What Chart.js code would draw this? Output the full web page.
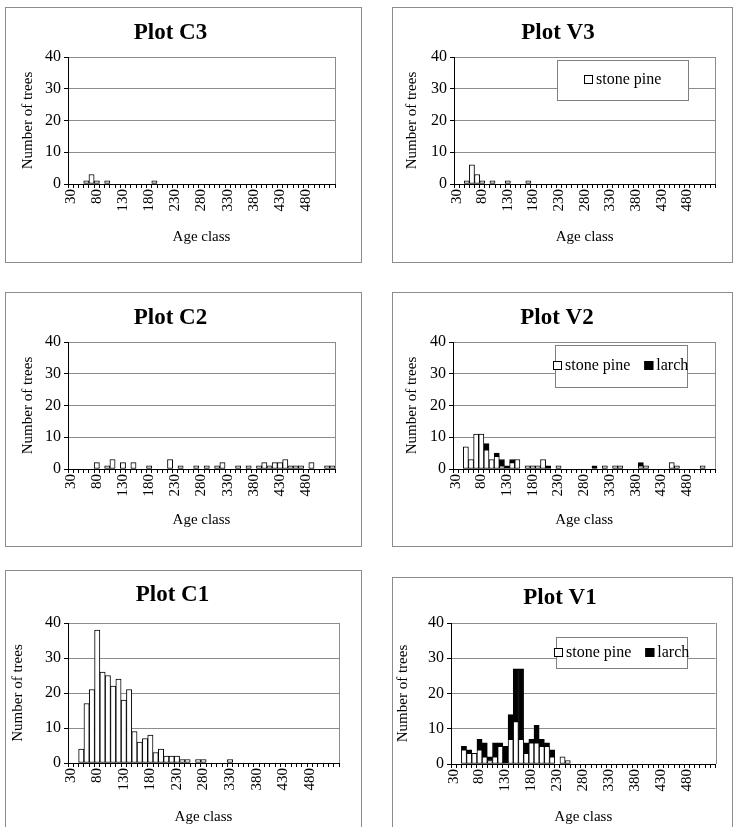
<!DOCTYPE html>
<html lang="en">
<head>
<meta charset="UTF-8" />
<title>Age class distribution per plot</title>
<script src="https://cdn.jsdelivr.net/npm/chart.js"></script>
<style>
  html, body { margin: 0; padding: 0; background: #fff; overflow: hidden; }
  #page { position: relative; width: 735px; height: 827px; overflow: hidden; }
  .panel { position: absolute; border: 1px solid #8c8c8c; box-sizing: border-box; background: #fff; }
  .panel canvas { display: block; }
</style>
</head>
<body>
<div id="page"></div>
<script>
// age classes on the x axis (one bar slot each)
const ageClasses = [
  30, 40, 50, 60, 70, 80, 90, 100, 110, 120,
  130, 140, 150, 160, 170, 180, 190, 200, 210, 220,
  230, 240, 250, 260, 270, 280, 290, 300, 310, 320,
  330, 340, 350, 360, 370, 380, 390, 400, 410, 420,
  430, 440, 450, 460, 470, 480, 490, 500, 510, 520,
  530
];
const xTickLabels = [30, 80, 130, 180, 230, 280, 330, 380, 430, 480];
const yTicks = [0, 10, 20, 30, 40];

// number of trees per age class
const c3Trees = [
  0, 0, 0, 1, 3, 1, 0, 1, 0, 0,
  0, 0, 0, 0, 0, 0, 1, 0, 0, 0,
  0, 0, 0, 0, 0, 0, 0, 0, 0, 0,
  0, 0, 0, 0, 0, 0, 0, 0, 0, 0,
  0, 0, 0, 0, 0, 0, 0, 0, 0, 0,
  0
];
const v3StonePine = [
  0, 0, 1, 6, 3, 1, 0, 1, 0, 0,
  1, 0, 0, 0, 1, 0, 0, 0, 0, 0,
  0, 0, 0, 0, 0, 0, 0, 0, 0, 0,
  0, 0, 0, 0, 0, 0, 0, 0, 0, 0,
  0, 0, 0, 0, 0, 0, 0, 0, 0, 0,
  0
];
const c2Trees = [
  0, 0, 0, 0, 0, 2, 0, 1, 3, 0,
  2, 0, 2, 0, 0, 1, 0, 0, 0, 3,
  0, 1, 0, 0, 1, 0, 1, 0, 1, 2,
  0, 0, 1, 0, 1, 0, 1, 2, 1, 2,
  2, 3, 1, 1, 1, 0, 2, 0, 0, 1,
  1
];
const v2StonePine = [
  0, 0, 7, 3, 11, 11, 6, 3, 4, 1,
  0, 2, 3, 0, 1, 1, 1, 3, 0, 0,
  1, 0, 0, 0, 0, 0, 0, 0, 0, 1,
  0, 1, 1, 0, 0, 0, 1, 1, 0, 0,
  0, 0, 2, 1, 0, 0, 0, 0, 1, 0,
  0
];
const v2Larch = [
  0, 0, 0, 0, 0, 0, 2, 0, 1, 2,
  1, 1, 0, 0, 0, 0, 0, 0, 1, 0,
  0, 0, 0, 0, 0, 0, 0, 1, 0, 0,
  0, 0, 0, 0, 0, 0, 1, 0, 0, 0,
  0, 0, 0, 0, 0, 0, 0, 0, 0, 0,
  0
];
const c1Trees = [
  0, 0, 4, 17, 21, 38, 26, 25, 22, 24,
  18, 21, 9, 6, 7, 8, 3, 4, 2, 2,
  2, 1, 1, 0, 1, 1, 0, 0, 0, 0,
  1, 0, 0, 0, 0, 0, 0, 0, 0, 0,
  0, 0, 0, 0, 0, 0, 0, 0, 0, 0,
  0
];
const v1StonePine = [
  0, 0, 4, 3, 3, 4, 2, 1, 2, 5,
  0, 7, 12, 7, 3, 6, 6, 5, 5, 2,
  0, 2, 1, 0, 0, 0, 0, 0, 0, 0,
  0, 0, 0, 0, 0, 0, 0, 0, 0, 0,
  0, 0, 0, 0, 0, 0, 0, 0, 0, 0,
  0
];
const v1Larch = [
  0, 0, 1, 1, 0, 3, 4, 1, 4, 1,
  5, 7, 15, 20, 3, 1, 5, 2, 1, 2,
  0, 0, 0, 0, 0, 0, 0, 0, 0, 0,
  0, 0, 0, 0, 0, 0, 0, 0, 0, 0,
  0, 0, 0, 0, 0, 0, 0, 0, 0, 0,
  0
];

const SERIF = "'Liberation Serif', 'Times New Roman', serif";
Chart.defaults.font.family = SERIF;
Chart.defaults.color = "#000";
Chart.defaults.animation = false;

// page positions of each panel (box), its plot area and its texts
const panels = [
  { title: "Plot C3", box: [5, 7, 357, 256], plot: [68, 57, 335, 184], titleY: 33, yTitleX: 28, xTitleY: 237,
    series: [{ label: "trees", data: c3Trees, color: "#fff" }] },
  { title: "Plot V3", box: [392, 7, 341, 256], plot: [454, 57, 723, 184], titleY: 33, yTitleX: 412, xTitleY: 237,
    legend: [557, 60, 131, 40],
    series: [{ label: "stone pine", data: v3StonePine, color: "#fff" }] },
  { title: "Plot C2", box: [5, 292, 357, 255], plot: [68, 342, 335, 469], titleY: 318, yTitleX: 28, xTitleY: 520,
    series: [{ label: "trees", data: c2Trees, color: "#fff" }] },
  { title: "Plot V2", box: [392, 292, 341, 255], plot: [453, 342, 721, 469], titleY: 318, yTitleX: 412, xTitleY: 520,
    legend: [555, 345, 132, 42],
    series: [{ label: "stone pine", data: v2StonePine, color: "#fff" },
             { label: "larch", data: v2Larch, color: "#000" }] },
  { title: "Plot C1", box: [5, 570, 357, 270], plot: [68, 623, 339, 763], titleY: 595, yTitleX: 18, xTitleY: 817,
    series: [{ label: "trees", data: c1Trees, color: "#fff" }] },
  { title: "Plot V1", box: [392, 577, 341, 265], plot: [451, 623, 727, 764], titleY: 598, yTitleX: 403, xTitleY: 817,
    legend: [556, 637, 131, 31],
    series: [{ label: "stone pine", data: v1StonePine, color: "#fff" },
             { label: "larch", data: v1Larch, color: "#000" }] }
];

// right edge of the plot frame (top edge is the 40 gridline)
const plotFrame = {
  id: "plotFrame",
  beforeDatasetsDraw(chart) {
    const { ctx, chartArea: a } = chart;
    ctx.save();
    ctx.strokeStyle = "#8c8c8c";
    ctx.lineWidth = 1;
    ctx.beginPath();
    ctx.moveTo(Math.round(a.right) + 0.5, a.top);
    ctx.lineTo(Math.round(a.right) + 0.5, a.bottom);
    ctx.stroke();
    ctx.restore();
  }
};

// boxed legend inside the plot, like the spreadsheet one
const boxLegend = {
  id: "boxLegend",
  afterDraw(chart, args, opts) {
    if (!opts.box) return;
    const ctx = chart.ctx;
    const [x, y, w, h] = opts.box;
    ctx.save();
    ctx.fillStyle = "#fff";
    ctx.fillRect(x, y, w, h);
    ctx.strokeStyle = "#7f7f7f";
    ctx.lineWidth = 1;
    ctx.strokeRect(Math.round(x) + 0.5, Math.round(y) + 0.5, w, h);
    ctx.font = "16px " + SERIF;
    ctx.textBaseline = "middle";
    const sq = 9, gap = 3, between = 14;
    const items = chart.data.datasets.map(ds => ({
      label: ds.label, color: ds.backgroundColor, width: ctx.measureText(ds.label).width
    }));
    const total = items.reduce((s, it) => s + sq + gap + it.width, 0) + between * (items.length - 1);
    let cx = Math.round(x + (w - total) / 2);
    const cy = Math.round(y + h / 2);
    items.forEach(it => {
      ctx.fillStyle = it.color;
      ctx.fillRect(cx, cy - 5, sq, sq);
      ctx.strokeStyle = "#000";
      ctx.strokeRect(cx + 0.5, cy - 4.5, sq - 1, sq - 1);
      ctx.fillStyle = "#000";
      ctx.fillText(it.label, cx + sq + gap, cy);
      cx += sq + gap + it.width + between;
    });
    ctx.restore();
  }
};

const page = document.getElementById("page");

panels.forEach(p => {
  const [bx, by, bw, bh] = p.box;
  const wrap = document.createElement("div");
  wrap.className = "panel";
  wrap.style.left = bx + "px";
  wrap.style.top = by + "px";
  wrap.style.width = bw + "px";
  wrap.style.height = bh + "px";
  const canvas = document.createElement("canvas");
  const cw = bw - 2, ch = bh - 2;
  canvas.width = cw;
  canvas.height = ch;
  wrap.appendChild(canvas);
  page.appendChild(wrap);

  // canvas-local geometry
  const ox = bx + 1, oy = by + 1;
  const plotL = p.plot[0] - ox, plotT = p.plot[1] - oy;
  const plotR = p.plot[2] - ox, plotB = p.plot[3] - oy;
  const titleFont = 23, titleLH = titleFont * 1.2;
  const titlePadTop = p.titleY - oy - titleLH / 2;
  const titlePadBottom = plotT - titlePadTop - titleLH;
  const axisFont = 15;
  const stacked = p.series.length > 1;

  let legendBox = null;
  if (p.legend) legendBox = [p.legend[0] - ox, p.legend[1] - oy, p.legend[2], p.legend[3]];

  new Chart(canvas, {
    type: "bar",
    data: {
      labels: ageClasses,
      datasets: p.series.map(s => ({
        label: s.label,
        data: s.data,
        backgroundColor: s.color,
        borderColor: "#000",
        borderWidth: 1,
        borderSkipped: false,
        categoryPercentage: 1,
        barPercentage: 1
      }))
    },
    options: {
      responsive: false,
      events: [],
      layout: { padding: { left: 0, top: 0, bottom: 0, right: cw - plotR } },
      plugins: {
        legend: { display: false },
        tooltip: { enabled: false },
        title: {
          display: true,
          text: p.title,
          color: "#000",
          font: { family: SERIF, size: titleFont, weight: "bold" },
          padding: { top: titlePadTop, bottom: titlePadBottom }
        },
        boxLegend: { box: legendBox }
      },
      scales: {
        x: {
          stacked: stacked,
          afterFit: s => { s.height = ch - plotB; },
          grid: { display: true, drawOnChartArea: false, drawTicks: true, tickLength: 4, color: "#000", offset: true },
          border: { display: true, color: "#000" },
          ticks: {
            autoSkip: false,
            minRotation: 90,
            maxRotation: 90,
            padding: 1,
            font: { size: axisFont },
            callback: (v, i) => (xTickLabels.includes(ageClasses[i]) ? ageClasses[i] : "")
          },
          title: {
            display: true,
            text: "Age class",
            font: { size: axisFont },
            padding: { top: 0, bottom: (ch - (p.xTitleY - oy)) - axisFont * 0.6 }
          }
        },
        y: {
          stacked: stacked,
          min: yTicks[0],
          max: yTicks[yTicks.length - 1],
          afterFit: s => { s.width = plotL; },
          afterBuildTicks: s => { s.ticks = yTicks.map(v => ({ value: v })); },
          grid: { color: "#8c8c8c", tickLength: 4, tickColor: "#000" },
          border: { display: true, color: "#000" },
          ticks: { padding: 3, font: { size: axisFont + 1 } },
          title: {
            display: true,
            text: "Number of trees",
            font: { size: axisFont },
            padding: { top: (p.yTitleX - ox) - axisFont * 0.6, bottom: 0 }
          }
        }
      }
    },
    plugins: [plotFrame, boxLegend]
  });
});
</script>
</body>
</html>
